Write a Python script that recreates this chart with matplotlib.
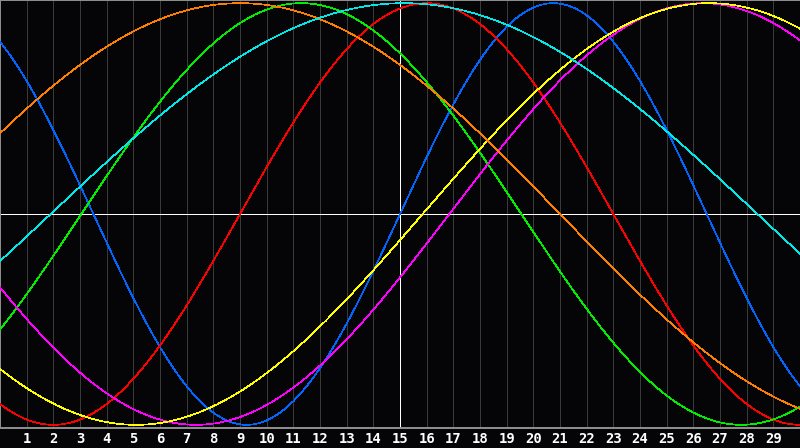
import matplotlib
matplotlib.use("Agg")
import matplotlib.pyplot as plt
import numpy as np

# biorhythm cycles: period (days) and the day each curve crosses zero going up
cycle_names = ["physical", "emotional", "intellectual", "intuitive",
               "aesthetic", "self-awareness", "spiritual"]
periods = [23, 28, 33, 38, 43, 48, 53]
zero_up_day = [15.0, 9.0, 3.05, 16.85, 15.85, -3.0, 1.9]
colors = ["#0066ff", "#ff0000", "#00ee00", "#ff00ff",
          "#ffff00", "#ff8000", "#00e8e8"]

days = list(range(1, 30))
today = 15

bg = "#050508"
px = 0.72  # one pixel at 100 dpi
fig = plt.figure(figsize=(8, 4.48), dpi=100, facecolor=bg)
ax = fig.add_axes([0, 20 / 448, 1, 428 / 448], facecolor=bg)

t = np.linspace(0, 30, 1600)
for per, t0, c in zip(periods, zero_up_day, colors):
    ax.plot(t, np.sin(2 * np.pi * (t - t0) / per), color=c, lw=0.5,
            antialiased=False, zorder=3)

for d in days:
    ax.axvline(d, color="#3a3a3a", lw=px, antialiased=False, zorder=1)
ax.axvline(today, color="white", lw=px, antialiased=False, zorder=2)
ax.axhline(0, color="white", lw=px, antialiased=False, zorder=2)

ax.set_xlim(0, 30)
ax.set_ylim(-1.015, 1.015)
ax.set_yticks([])
ax.set_xticks(days)
ax.set_xticklabels([str(d) for d in days], color="white",
                   fontfamily="DejaVu Sans Mono", fontweight="bold", fontsize=10)
ax.tick_params(axis="x", length=0, pad=3)

for side in ["left", "bottom", "top"]:
    ax.spines[side].set_color("#909090")
    ax.spines[side].set_linewidth(1.4)
ax.spines["right"].set_visible(False)

fig.savefig("out.png", dpi=100, facecolor=bg)
